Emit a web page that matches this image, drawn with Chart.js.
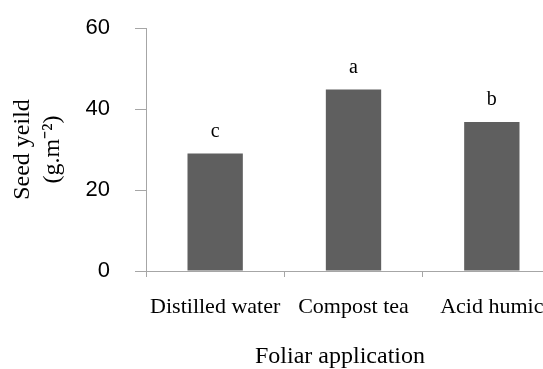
<!DOCTYPE html>
<html>
<head>
<meta charset="utf-8">
<script src="https://cdn.jsdelivr.net/npm/chart.js@4/dist/chart.umd.min.js"></script>
<style>
  html, body { margin: 0; padding: 0; background: #fff; overflow: hidden; }
</style>
</head>
<body>
<canvas id="seedChart" width="561" height="369"></canvas>
<script>
// Data
const treatments = ['Distilled water', 'Compost tea', 'Acid humic'];
const seedYield = [29.0, 44.8, 36.8];
const groupLetters = ['c', 'a', 'b'];
const yTicks = [0, 20, 40, 60];

const axisColor = '#a6a6a6';
const barColor = '#5f5f5f';
const serif = '"Liberation Serif", "Times New Roman", serif';
const sans = '"Liberation Sans", Arial, sans-serif';

// Draws the significance letters above each bar and the x axis title
const letterPlugin = {
  id: 'letters',
  afterDatasetsDraw(chart) {
    const ctx = chart.ctx;
    const bars = chart.getDatasetMeta(0).data;
    ctx.save();
    ctx.fillStyle = '#000';
    ctx.font = '20px ' + serif;
    ctx.textAlign = 'center';
    ctx.textBaseline = 'alphabetic';
    bars.forEach((bar, i) => {
      ctx.fillText(groupLetters[i], bar.x, bar.y - 17);
    });
    ctx.font = '24px ' + serif;
    ctx.fillText('Foliar application', 340, 363);
    ctx.restore();
  }
};

const canvas = document.getElementById('seedChart');
const ctx = canvas.getContext('2d');

const myChart = new Chart(ctx, {
  type: 'bar',
  data: {
    labels: treatments,
    datasets: [{
      data: seedYield,
      backgroundColor: barColor,
      borderWidth: 0,
      barPercentage: 0.4,
      categoryPercentage: 1
    }]
  },
  options: {
    responsive: false,
    animation: false,
    devicePixelRatio: 1,
    layout: { padding: { top: 28, left: 0, right: 0, bottom: 0 } },
    plugins: {
      legend: { display: false },
      tooltip: { enabled: false }
    },
    scales: {
      x: {
        afterFit: (scale) => { scale.height = 98; },
        border: { color: axisColor, width: 1 },
        grid: {
          offset: true,
          drawOnChartArea: false,
          tickLength: 6,
          color: axisColor
        },
        ticks: {
          color: '#000',
          font: { family: serif, size: 22 },
          padding: 17,
          maxRotation: 0,
          autoSkip: false
        }
      },
      y: {
        min: 0,
        max: 60,
        afterFit: (scale) => {
          scale.width = 146;
          scale.paddingTop = 0;
          scale.paddingBottom = 0;
        },
        afterBuildTicks: (scale) => {
          scale.ticks = yTicks.map(v => ({ value: v }));
        },
        border: { color: axisColor, width: 1 },
        grid: {
          drawOnChartArea: false,
          tickLength: 11,
          color: axisColor
        },
        ticks: {
          color: '#000',
          font: { family: sans, size: 22 },
          padding: 25
        },
        title: {
          display: true,
          text: ['Seed yeild', '(g.m\u207B\u00B2)'],
          color: '#000',
          font: { family: serif, size: 24, lineHeight: 1.25 },
          padding: { top: 8, bottom: 0 }
        }
      }
    }
  },
  plugins: [letterPlugin]
});
</script>
</body>
</html>
